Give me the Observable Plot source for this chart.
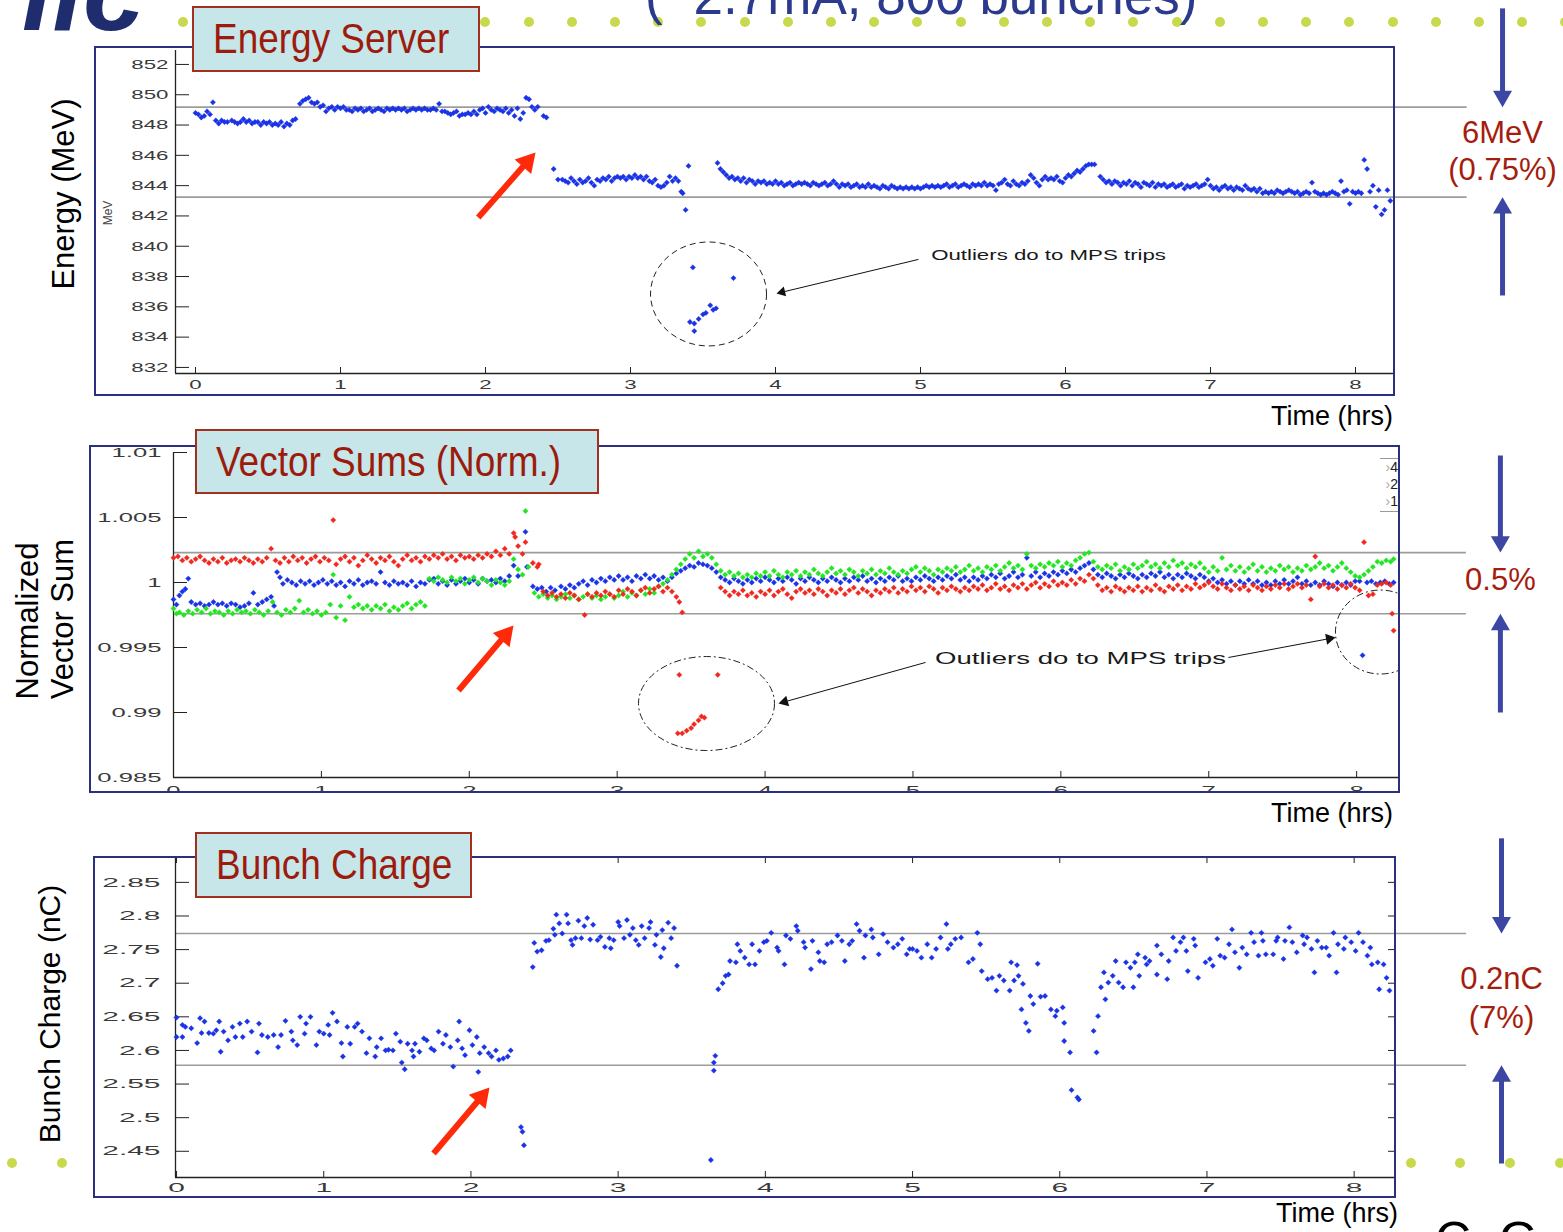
<!DOCTYPE html>
<html><head><meta charset="utf-8">
<script src="https://cdn.jsdelivr.net/npm/d3@7"></script>
<script src="https://cdn.jsdelivr.net/npm/@observablehq/plot@0.6"></script>
<style>
body{margin:0;background:#fff;}
#page{position:relative;width:1563px;height:1232px;overflow:hidden;background:#fff;font-family:"Liberation Sans",Arial,sans-serif;}
.frame{position:absolute;border:2px solid #2b2f80;box-sizing:border-box;z-index:3;pointer-events:none;}
.tbox{position:absolute;background:#c6e6ea;border:2px solid #a3301f;box-sizing:border-box;z-index:6;overflow:hidden;}
.tbox span{position:absolute;left:19px;top:50%;transform-origin:left center;transform:translateY(-50%) scaleX(0.88);font-size:42px;color:#9c1b0c;white-space:nowrap;line-height:1;}
.vlab{position:absolute;transform:translate(-50%,-50%) rotate(-90deg);font-size:31px;color:#000;white-space:nowrap;z-index:4;line-height:1;}
.time{position:absolute;font-size:27px;color:#000;z-index:4;line-height:1;transform:translateY(-50%);}
.ddot{position:absolute;width:10px;height:10px;border-radius:50%;background:#c8d94c;transform:translate(-50%,-50%);z-index:0;}
</style></head>
<body><div id="page"></div>
<script>
// ---------------- DATA ----------------
const timeTicks = [0,1,2,3,4,5,6,7,8];
const energyTicks = [832,834,836,838,840,842,844,846,848,850,852];
const vsTicks = [0.985,0.99,0.995,1,1.005,1.01];
const bunchTicks = [2.45,2.5,2.55,2.6,2.65,2.7,2.75,2.8,2.85];

const energyLevels = [849.18, 843.24];
const vsLevels = [1.0023, 0.9976];
const bunchLevels = [2.774, 2.578];

const energyNote = ["6MeV","(0.75%)"];
const vsNote = ["0.5%"];
const bunchNote = ["0.2nC","(7%)"];
const outlierNote = "Outliers do to MPS trips";

const energyPts = [[0.00,848.8],[0.02,848.7],[0.04,848.5],[0.06,848.6],[0.08,848.9],[0.10,848.7],[0.12,849.5],[0.14,848.3],[0.16,848.1],[0.18,848.3],[0.20,848.2],[0.22,848.2],[0.25,848.3],[0.27,848.2],[0.29,848.1],[0.31,848.2],[0.33,848.4],[0.35,848.2],[0.37,848.3],[0.39,848.1],[0.41,848.2],[0.43,848.2],[0.45,848.0],[0.47,848.2],[0.49,848.1],[0.51,848.2],[0.53,848.0],[0.55,848.1],[0.57,848.0],[0.59,848.2],[0.61,847.9],[0.63,848.1],[0.65,848.0],[0.67,848.3],[0.69,848.4],[0.72,849.4],[0.74,849.6],[0.76,849.7],[0.78,849.8],[0.80,849.5],[0.82,849.4],[0.84,849.5],[0.86,849.2],[0.88,849.3],[0.90,848.9],[0.92,849.1],[0.94,849.2],[0.96,849.0],[0.98,849.2],[1.00,849.1],[1.02,849.2],[1.04,849.0],[1.06,849.0],[1.08,848.9],[1.10,849.1],[1.12,849.0],[1.14,849.1],[1.16,848.9],[1.18,849.0],[1.20,849.1],[1.22,848.9],[1.24,849.0],[1.26,849.1],[1.28,849.0],[1.30,848.9],[1.32,849.1],[1.34,849.0],[1.36,849.1],[1.38,849.0],[1.40,849.1],[1.42,849.0],[1.44,849.1],[1.46,848.9],[1.48,849.0],[1.50,849.1],[1.52,849.0],[1.54,849.1],[1.56,849.0],[1.58,849.1],[1.60,849.0],[1.62,849.0],[1.64,849.1],[1.66,849.0],[1.68,849.4],[1.70,848.9],[1.72,848.9],[1.74,848.8],[1.76,848.7],[1.78,848.8],[1.80,848.9],[1.82,848.6],[1.84,848.7],[1.86,848.7],[1.88,848.8],[1.90,848.7],[1.92,848.9],[1.94,848.7],[1.96,849.0],[1.98,849.1],[2.00,848.8],[2.02,849.2],[2.04,849.0],[2.06,848.9],[2.08,849.1],[2.10,849.0],[2.12,848.9],[2.14,849.1],[2.16,848.8],[2.18,849.0],[2.20,848.6],[2.22,849.1],[2.24,848.4],[2.26,848.8],[2.28,849.8],[2.30,849.7],[2.32,849.2],[2.34,849.0],[2.36,849.2],[2.40,848.6],[2.42,848.5],
[2.47,845.1],[2.50,844.4],[2.53,844.4],[2.55,844.3],[2.57,844.2],[2.59,844.5],[2.61,844.3],[2.63,844.1],[2.65,844.4],[2.67,844.2],[2.69,844.3],[2.71,844.5],[2.73,844.2],[2.75,844.0],[2.77,844.4],[2.79,844.3],[2.81,844.5],[2.83,844.4],[2.85,844.6],[2.87,844.3],[2.89,844.5],[2.91,844.6],[2.93,844.5],[2.95,844.6],[2.97,844.4],[2.99,844.6],[3.01,844.5],[3.03,844.7],[3.05,844.5],[3.07,844.6],[3.09,844.4],[3.11,844.6],[3.13,844.3],[3.15,844.2],[3.17,844.4],[3.19,844.0],[3.21,843.9],[3.23,844.0],[3.25,844.2],[3.27,844.6],[3.29,844.3],[3.31,844.5],[3.33,844.3],[3.35,843.6],[3.36,843.5],[3.38,842.4],[3.40,845.3],
[3.43,838.6],[3.41,835.0],[3.44,834.9],[3.44,834.4],[3.47,835.2],[3.50,835.5],[3.52,835.6],[3.55,836.1],[3.57,835.8],[3.59,835.9],[3.71,837.9],
[3.60,845.5],[3.62,845.1],[3.64,844.9],[3.66,844.7],[3.68,844.5],[3.70,844.6],[3.72,844.4],[3.74,844.5],[3.76,844.3],[3.78,844.5],[3.80,844.2],[3.82,844.4],[3.84,844.3],[3.86,844.1],[3.88,844.3],[3.90,844.2],[3.92,844.3],[3.94,844.1],[3.96,844.2],[3.98,844.1],[4.00,844.3],[4.02,844.1],[4.04,844.2],[4.06,844.0],[4.08,844.1],[4.10,844.2],[4.12,844.0],[4.14,844.1],[4.16,844.2],[4.18,844.1],[4.20,844.2],[4.22,844.1],[4.24,844.0],[4.26,844.2],[4.28,844.1],[4.30,844.0],[4.32,844.1],[4.34,844.2],[4.36,844.0],[4.38,844.1],[4.40,844.3],[4.42,844.1],[4.44,843.9],[4.46,844.1],[4.48,844.0],[4.50,844.1],[4.52,843.9],[4.54,844.0],[4.56,844.1],[4.58,843.9],[4.60,844.0],[4.62,843.9],[4.64,844.1],[4.66,843.9],[4.68,844.0],[4.70,843.9],[4.72,843.8],[4.74,844.0],[4.76,843.9],[4.78,843.8],[4.80,844.0],[4.82,843.9],[4.84,843.8],[4.86,843.9],[4.88,843.8],[4.90,843.9],[4.92,843.8],[4.94,843.9],[4.96,843.8],[4.98,843.9],[5.00,843.8],[5.02,843.9],[5.04,844.0],[5.06,843.9],[5.08,844.0],[5.10,843.9],[5.12,844.0],[5.14,843.9],[5.16,844.0],[5.18,844.1],[5.20,843.9],[5.22,844.0],[5.24,844.1],[5.26,843.9],[5.28,844.0],[5.30,844.1],[5.32,844.0],[5.34,843.9],[5.36,844.1],[5.38,844.0],[5.40,844.1],[5.42,844.0],[5.44,844.2],[5.46,844.0],[5.48,844.1],[5.50,844.0],[5.52,843.7],[5.54,844.1],[5.56,844.2],[5.58,844.4],[5.60,844.1],[5.62,844.0],[5.64,844.3],[5.66,844.1],[5.68,844.0],[5.70,844.2],[5.72,844.1],[5.74,844.3],[5.76,844.7],[5.78,844.5],[5.80,844.2],[5.82,844.0],[5.84,844.4],[5.86,844.6],[5.88,844.4],[5.90,844.5],[5.92,844.4],[5.94,844.6],[5.96,844.3],[5.98,844.2],[6.00,844.5],[6.02,844.7],[6.04,844.6],[6.06,844.8],[6.08,845.0],[6.10,844.9],[6.12,845.1],[6.14,845.3],[6.16,845.4],[6.18,845.4],[6.20,845.4],[6.24,844.6],[6.26,844.4],[6.28,844.2],[6.30,844.3],[6.32,844.1],[6.34,844.3],[6.36,844.2],[6.38,844.0],[6.40,844.2],[6.42,844.1],[6.44,844.3],[6.46,844.0],[6.48,844.2],[6.50,844.1],[6.52,843.9],[6.54,844.2],[6.56,844.1],[6.58,844.0],[6.60,844.2],[6.62,843.9],[6.64,844.1],[6.66,844.0],[6.68,844.1],[6.70,843.9],[6.72,844.0],[6.74,844.1],[6.76,843.9],[6.78,844.0],[6.80,844.1],[6.82,843.8],[6.84,844.0],[6.86,843.9],[6.88,844.0],[6.90,844.1],[6.92,843.9],[6.94,844.0],[6.96,844.1],[6.98,844.4],[7.00,844.0],[7.02,843.8],[7.04,843.9],[7.06,843.7],[7.08,843.9],[7.10,844.0],[7.12,843.8],[7.14,843.9],[7.16,843.7],[7.18,843.9],[7.20,843.8],[7.22,843.7],[7.24,844.0],[7.26,843.8],[7.28,843.7],[7.30,843.8],[7.32,843.6],[7.34,843.8],[7.36,843.5],[7.38,843.6],[7.40,843.5],[7.42,843.6],[7.44,843.5],[7.46,843.7],[7.48,843.6],[7.50,843.5],[7.52,843.6],[7.54,843.7],[7.56,843.6],[7.58,843.5],[7.60,843.6],[7.62,843.4],[7.64,843.5],[7.66,843.6],[7.68,843.5],[7.70,844.2],[7.72,843.6],[7.74,843.5],[7.76,843.4],[7.78,843.5],[7.80,843.4],[7.82,843.5],[7.84,843.6],[7.86,843.5],[7.88,843.4],[7.90,844.3],[7.92,843.6],[7.94,843.7],[7.96,842.8],[7.98,843.6],[8.00,843.5],[8.02,843.6],[8.04,843.5],[8.06,845.7],[8.08,845.1],[8.10,843.6],[8.12,844.0],[8.14,842.6],[8.16,843.7],[8.18,842.1],[8.20,842.4],[8.22,843.7],[8.24,843.0]];

const vsRed = [[0.00,1.0019],[0.03,1.0020],[0.06,1.0017],[0.09,1.0019],[0.12,1.0016],[0.15,1.0018],[0.18,1.0020],[0.21,1.0017],[0.24,1.0015],[0.27,1.0018],[0.30,1.0016],[0.33,1.0019],[0.36,1.0015],[0.39,1.0017],[0.42,1.0018],[0.45,1.0016],[0.48,1.0019],[0.51,1.0017],[0.54,1.0015],[0.57,1.0018],[0.60,1.0016],[0.63,1.0019],[0.66,1.0026],[0.69,1.0017],[0.72,1.0015],[0.75,1.0019],[0.78,1.0016],[0.81,1.0020],[0.84,1.0017],[0.87,1.0019],[0.90,1.0015],[0.93,1.0018],[0.96,1.0020],[0.99,1.0016],[1.02,1.0019],[1.05,1.0017],[1.08,1.0048],[1.10,1.0014],[1.13,1.0018],[1.16,1.0020],[1.19,1.0016],[1.22,1.0019],[1.25,1.0013],[1.28,1.0017],[1.31,1.0021],[1.34,1.0018],[1.37,1.0015],[1.40,1.0019],[1.43,1.0017],[1.46,1.0020],[1.49,1.0016],[1.52,1.0013],[1.55,1.0018],[1.58,1.0021],[1.61,1.0017],[1.64,1.0019],[1.67,1.0016],[1.70,1.0020],[1.73,1.0018],[1.76,1.0021],[1.79,1.0019],[1.82,1.0022],[1.85,1.0018],[1.88,1.0020],[1.91,1.0017],[1.94,1.0021],[1.97,1.0019],[2.00,1.0020],[2.03,1.0018],[2.06,1.0021],[2.09,1.0019],[2.12,1.0022],[2.15,1.0020],[2.18,1.0024],[2.21,1.0021],[2.24,1.0026],[2.27,1.0022],[2.30,1.0038],[2.31,1.0035],[2.33,1.0028],[2.36,1.0022],[2.38,1.0031],[2.43,1.0015],[2.46,1.0012],[2.47,1.0014],
[2.50,0.9993],[2.53,0.9990],[2.56,0.9992],[2.59,0.9989],[2.62,0.9991],[2.65,0.9988],[2.68,0.9992],[2.71,0.9990],[2.74,0.9987],[2.78,0.9975],[2.80,0.9991],[2.83,0.9989],[2.86,0.9992],[2.89,0.9990],[2.92,0.9993],[2.95,0.9991],[2.98,0.9989],[3.01,0.9994],[3.04,0.9991],[3.07,0.9995],[3.10,0.9993],[3.13,0.9990],[3.16,0.9994],[3.19,0.9996],[3.22,0.9992],[3.25,0.9995],[3.28,0.9997],[3.31,0.9993],[3.34,0.9996],[3.37,0.9993],[3.40,0.9989],[3.42,0.9985],[3.44,0.9977],
[3.42,0.9929],[3.68,0.9929],[3.41,0.9884],[3.44,0.9884],[3.47,0.9886],[3.50,0.9888],[3.52,0.9891],[3.55,0.9894],[3.57,0.9897],[3.59,0.9896],
[3.70,0.9996],[3.73,0.9993],[3.76,0.9990],[3.79,0.9993],[3.82,0.9991],[3.85,0.9994],[3.88,0.9990],[3.91,0.9992],[3.94,0.9989],[3.97,0.9993],[4.00,0.9991],[4.03,0.9994],[4.06,0.9990],[4.09,0.9993],[4.12,0.9995],[4.15,0.9991],[4.18,0.9988],[4.21,0.9993],[4.24,0.9995],[4.27,0.9992],[4.30,0.9994],[4.33,0.9991],[4.36,0.9995],[4.39,0.9993],[4.42,0.9990],[4.45,0.9994],[4.48,0.9992],[4.51,0.9995],[4.54,0.9991],[4.57,0.9994],[4.60,0.9996],[4.63,0.9992],[4.66,0.9995],[4.69,0.9993],[4.72,0.9990],[4.75,0.9994],[4.78,0.9992],[4.81,0.9995],[4.84,0.9993],[4.87,0.9996],[4.90,0.9992],[4.93,0.9995],[4.96,0.9993],[4.99,0.9997],[5.02,0.9994],[5.05,0.9996],[5.08,0.9993],[5.11,0.9997],[5.14,0.9995],[5.17,0.9992],[5.20,0.9996],[5.23,0.9994],[5.26,0.9997],[5.29,0.9995],[5.32,0.9993],[5.35,0.9996],[5.38,0.9994],[5.41,0.9997],[5.44,0.9995],[5.47,0.9998],[5.50,0.9994],[5.53,0.9996],[5.56,0.9999],[5.59,0.9995],[5.62,0.9997],[5.65,0.9994],[5.68,0.9998],[5.71,0.9996],[5.74,0.9999],[5.77,0.9995],[5.80,0.9998],[5.83,1.0000],[5.86,0.9996],[5.89,0.9999],[5.92,0.9997],[5.95,1.0001],[5.98,0.9998],[6.01,1.0000],[6.04,0.9998],[6.07,1.0002],[6.10,0.9999],[6.13,1.0003],[6.16,1.0001],[6.19,1.0006],[6.22,1.0003],[6.25,0.9998],[6.28,0.9994],[6.31,0.9996],[6.34,0.9993],[6.37,0.9997],[6.40,0.9995],[6.43,0.9993],[6.46,0.9996],[6.49,0.9994],[6.52,0.9997],[6.55,0.9993],[6.58,0.9996],[6.61,0.9994],[6.64,0.9998],[6.67,0.9995],[6.70,0.9993],[6.73,0.9997],[6.76,0.9995],[6.79,0.9998],[6.82,0.9994],[6.85,0.9997],[6.88,0.9995],[6.91,0.9999],[6.94,0.9996],[6.97,0.9998],[7.00,1.0000],[7.03,0.9997],[7.06,0.9995],[7.09,0.9999],[7.12,0.9996],[7.15,0.9994],[7.18,0.9998],[7.21,0.9995],[7.24,0.9997],[7.27,0.9994],[7.30,0.9998],[7.33,0.9996],[7.36,0.9994],[7.39,0.9997],[7.42,0.9995],[7.45,0.9998],[7.48,0.9996],[7.51,0.9999],[7.54,0.9995],[7.57,0.9997],[7.60,0.9999],[7.63,0.9996],[7.66,0.9998],[7.69,0.9987],[7.72,1.0020],[7.75,0.9997],[7.78,0.9999],[7.81,0.9996],[7.84,0.9998],[7.87,0.9995],[7.90,0.9998],[7.93,0.9996],[7.96,0.9999],[7.99,0.9996],[8.02,0.9994],[8.05,1.0031],[8.08,0.9990],[8.11,0.9991],[8.14,0.9998],[8.17,0.9999],[8.20,1.0000],[8.23,0.9998],[8.24,0.9976],[8.25,0.9963]];

const vsBlue = [[0.00,0.9987],[0.02,0.9983],[0.04,0.9990],[0.06,0.9993],[0.08,0.9995],[0.10,1.0003],[0.12,0.9985],[0.15,0.9983],[0.18,0.9984],[0.21,0.9982],[0.24,0.9983],[0.27,0.9985],[0.30,0.9983],[0.33,0.9984],[0.36,0.9982],[0.39,0.9984],[0.42,0.9983],[0.45,0.9981],[0.48,0.9982],[0.51,0.9984],[0.54,0.9992],[0.57,0.9983],[0.60,0.9985],[0.63,0.9987],[0.66,0.9989],[0.68,0.9982],[0.70,1.0008],[0.72,1.0004],[0.74,0.9999],[0.77,1.0002],[0.80,1.0000],[0.83,0.9998],[0.86,1.0001],[0.89,0.9999],[0.92,1.0001],[0.95,0.9998],[0.98,1.0000],[1.01,1.0002],[1.04,0.9999],[1.07,1.0001],[1.10,0.9998],[1.13,1.0000],[1.16,0.9997],[1.19,1.0001],[1.22,0.9999],[1.25,1.0002],[1.28,0.9998],[1.31,1.0000],[1.34,1.0001],[1.37,0.9999],[1.40,1.0008],[1.43,1.0000],[1.46,0.9998],[1.49,1.0001],[1.52,0.9999],[1.55,1.0000],[1.58,0.9998],[1.61,1.0001],[1.64,0.9997],[1.67,1.0000],[1.70,0.9999],[1.73,1.0002],[1.76,1.0003],[1.79,0.9999],[1.82,1.0001],[1.85,0.9998],[1.88,1.0002],[1.91,0.9999],[1.94,1.0001],[1.97,1.0003],[2.00,1.0000],[2.03,1.0002],[2.06,0.9999],[2.09,1.0003],[2.12,1.0001],[2.15,1.0002],[2.18,1.0000],[2.21,1.0003],[2.24,1.0001],[2.27,1.0005],[2.30,1.0013],[2.33,1.0005],[2.38,1.0039],[2.39,1.0012],
[2.43,0.9997],[2.46,0.9995],[2.49,0.9996],[2.52,0.9993],[2.55,0.9996],[2.58,0.9994],[2.62,0.9997],[2.65,0.9995],[2.68,0.9998],[2.71,0.9996],[2.74,0.9999],[2.77,1.0001],[2.80,0.9998],[2.83,1.0002],[2.86,1.0000],[2.89,1.0003],[2.92,1.0001],[2.95,1.0004],[2.98,1.0002],[3.01,1.0005],[3.04,1.0002],[3.07,1.0004],[3.10,1.0001],[3.13,1.0005],[3.16,1.0003],[3.19,1.0006],[3.22,1.0003],[3.25,1.0005],[3.28,1.0002],[3.31,1.0004],[3.34,1.0001],[3.37,1.0004],[3.40,1.0007],[3.43,1.0009],[3.46,1.0011],[3.49,1.0013],[3.52,1.0012],[3.55,1.0015],[3.58,1.0014],[3.61,1.0013],[3.64,1.0011],[3.67,1.0008],[3.70,1.0004],[3.73,1.0002],[3.76,1.0000],[3.79,1.0003],[3.82,1.0001],[3.85,0.9999],[3.88,1.0002],[3.91,1.0000],[3.94,1.0003],[3.97,1.0001],[4.00,1.0004],[4.03,1.0002],[4.06,1.0000],[4.09,1.0003],[4.12,1.0001],[4.15,1.0004],[4.18,1.0002],[4.21,0.9999],[4.24,1.0003],[4.27,1.0001],[4.30,1.0004],[4.33,1.0002],[4.36,1.0000],[4.39,1.0003],[4.42,1.0001],[4.45,1.0004],[4.48,1.0002],[4.51,1.0000],[4.54,1.0003],[4.57,1.0001],[4.60,1.0004],[4.63,1.0002],[4.66,1.0005],[4.69,1.0001],[4.72,1.0003],[4.75,1.0000],[4.78,1.0003],[4.81,1.0001],[4.84,1.0004],[4.87,1.0002],[4.90,1.0005],[4.93,1.0001],[4.96,1.0003],[4.99,1.0001],[5.02,1.0004],[5.05,1.0002],[5.08,1.0005],[5.11,1.0003],[5.14,1.0001],[5.17,1.0004],[5.20,1.0002],[5.23,1.0005],[5.26,1.0003],[5.29,1.0006],[5.32,1.0002],[5.35,1.0004],[5.38,1.0001],[5.41,1.0004],[5.44,1.0002],[5.47,1.0005],[5.50,1.0003],[5.53,1.0006],[5.56,1.0004],[5.59,1.0007],[5.62,1.0003],[5.65,1.0005],[5.68,1.0008],[5.71,1.0004],[5.74,1.0006],[5.77,1.0019],[5.80,1.0005],[5.83,1.0008],[5.86,1.0004],[5.89,1.0007],[5.92,1.0005],[5.95,1.0008],[5.98,1.0006],[6.01,1.0009],[6.04,1.0007],[6.07,1.0010],[6.10,1.0008],[6.13,1.0011],[6.16,1.0013],[6.19,1.0015],[6.22,1.0010],[6.25,1.0006],[6.28,1.0004],[6.31,1.0007],[6.34,1.0005],[6.37,1.0003],[6.40,1.0006],[6.43,1.0004],[6.46,1.0007],[6.49,1.0005],[6.52,1.0003],[6.55,1.0006],[6.58,1.0004],[6.61,1.0007],[6.64,1.0005],[6.67,1.0008],[6.70,1.0004],[6.73,1.0006],[6.76,1.0003],[6.79,1.0006],[6.82,1.0004],[6.85,1.0007],[6.88,1.0005],[6.91,1.0003],[6.94,1.0006],[6.97,1.0004],[7.00,1.0001],[7.03,1.0003],[7.06,1.0000],[7.09,1.0002],[7.12,0.9999],[7.15,1.0001],[7.18,0.9998],[7.21,1.0001],[7.24,0.9999],[7.27,1.0002],[7.30,0.9999],[7.33,1.0001],[7.36,0.9998],[7.39,1.0000],[7.42,0.9998],[7.45,1.0001],[7.48,0.9999],[7.51,1.0002],[7.54,0.9999],[7.57,1.0001],[7.60,1.0004],[7.63,0.9999],[7.66,1.0001],[7.69,0.9998],[7.72,1.0000],[7.75,0.9998],[7.78,1.0001],[7.81,0.9999],[7.84,0.9997],[7.87,1.0000],[7.90,0.9998],[7.93,1.0000],[7.96,0.9998],[7.99,1.0001],[8.02,1.0001],[8.04,0.9944],[8.07,1.0000],[8.10,1.0001],[8.13,0.9999],[8.16,1.0000],[8.19,1.0001],[8.22,0.9999],[8.25,1.0000]];

const vsGreen = [[0.00,0.9980],[0.02,0.9976],[0.04,0.9977],[0.07,0.9975],[0.10,0.9978],[0.13,0.9976],[0.16,0.9979],[0.19,0.9977],[0.22,0.9980],[0.25,0.9976],[0.28,0.9978],[0.31,0.9977],[0.34,0.9975],[0.37,0.9978],[0.40,0.9976],[0.43,0.9979],[0.46,0.9977],[0.49,0.9978],[0.52,0.9976],[0.55,0.9979],[0.58,0.9977],[0.61,0.9975],[0.64,0.9978],[0.67,0.9985],[0.70,0.9977],[0.73,0.9975],[0.76,0.9979],[0.79,0.9977],[0.82,0.9980],[0.85,0.9986],[0.88,0.9977],[0.91,0.9979],[0.94,0.9976],[0.97,0.9978],[1.00,0.9975],[1.03,0.9977],[1.06,0.9983],[1.08,1.0006],[1.10,0.9973],[1.13,0.9982],[1.16,0.9971],[1.19,0.9989],[1.22,0.9981],[1.25,0.9983],[1.28,0.9980],[1.31,0.9982],[1.34,0.9979],[1.37,0.9982],[1.40,0.9980],[1.43,0.9983],[1.46,0.9978],[1.49,0.9981],[1.52,0.9979],[1.55,0.9982],[1.58,0.9984],[1.61,0.9980],[1.64,0.9983],[1.67,0.9985],[1.70,0.9982],[1.73,1.0003],[1.76,1.0001],[1.79,1.0004],[1.82,1.0002],[1.85,1.0000],[1.88,1.0004],[1.91,1.0001],[1.94,1.0003],[1.97,0.9999],[2.00,1.0002],[2.03,1.0004],[2.06,1.0000],[2.09,1.0003],[2.12,1.0001],[2.15,0.9998],[2.18,1.0002],[2.21,1.0000],[2.24,0.9998],[2.27,1.0001],[2.30,1.0018],[2.33,1.0010],[2.36,1.0006],[2.38,1.0055],[2.40,1.0012],
[2.44,0.9992],[2.47,0.9989],[2.50,0.9991],[2.53,0.9988],[2.56,0.9990],[2.59,0.9987],[2.62,0.9989],[2.65,0.9991],[2.68,0.9988],[2.71,0.9990],[2.74,0.9987],[2.77,0.9989],[2.80,0.9991],[2.83,0.9988],[2.86,0.9990],[2.89,0.9987],[2.92,0.9989],[2.95,0.9991],[2.98,0.9988],[3.01,0.9990],[3.04,0.9993],[3.07,0.9989],[3.10,0.9992],[3.13,0.9990],[3.16,0.9994],[3.19,0.9991],[3.22,0.9995],[3.25,0.9992],[3.28,0.9997],[3.31,0.9999],[3.34,1.0002],[3.37,1.0006],[3.40,1.0010],[3.43,1.0014],[3.46,1.0018],[3.49,1.0022],[3.52,1.0019],[3.55,1.0024],[3.58,1.0020],[3.61,1.0022],[3.64,1.0019],[3.67,1.0014],[3.70,1.0009],[3.73,1.0006],[3.76,1.0008],[3.79,1.0005],[3.82,1.0007],[3.85,1.0004],[3.88,1.0006],[3.91,1.0004],[3.94,1.0007],[3.97,1.0005],[4.00,1.0008],[4.03,1.0005],[4.06,1.0009],[4.09,1.0006],[4.12,1.0004],[4.15,1.0008],[4.18,1.0006],[4.21,1.0009],[4.24,1.0005],[4.27,1.0008],[4.30,1.0006],[4.33,1.0010],[4.36,1.0007],[4.39,1.0005],[4.42,1.0008],[4.45,1.0011],[4.48,1.0007],[4.51,1.0009],[4.54,1.0006],[4.57,1.0010],[4.60,1.0008],[4.63,1.0005],[4.66,1.0009],[4.69,1.0007],[4.72,1.0010],[4.75,1.0006],[4.78,1.0009],[4.81,1.0007],[4.84,1.0011],[4.87,1.0008],[4.90,1.0006],[4.93,1.0009],[4.96,1.0007],[4.99,1.0010],[5.02,1.0012],[5.05,1.0008],[5.08,1.0011],[5.11,1.0009],[5.14,1.0006],[5.17,1.0010],[5.20,1.0008],[5.23,1.0011],[5.26,1.0009],[5.29,1.0012],[5.32,1.0008],[5.35,1.0010],[5.38,1.0013],[5.41,1.0009],[5.44,1.0011],[5.47,1.0008],[5.50,1.0012],[5.53,1.0010],[5.56,1.0013],[5.59,1.0009],[5.62,1.0012],[5.65,1.0015],[5.68,1.0011],[5.71,1.0013],[5.74,1.0010],[5.77,1.0022],[5.80,1.0013],[5.83,1.0011],[5.86,1.0014],[5.89,1.0012],[5.92,1.0015],[5.95,1.0013],[5.98,1.0016],[6.01,1.0012],[6.04,1.0015],[6.07,1.0013],[6.10,1.0017],[6.13,1.0019],[6.16,1.0022],[6.19,1.0023],[6.22,1.0016],[6.25,1.0012],[6.28,1.0010],[6.31,1.0013],[6.34,1.0011],[6.37,1.0014],[6.40,1.0009],[6.43,1.0012],[6.46,1.0010],[6.49,1.0014],[6.52,1.0011],[6.55,1.0013],[6.58,1.0016],[6.61,1.0012],[6.64,1.0014],[6.67,1.0011],[6.70,1.0015],[6.73,1.0012],[6.76,1.0017],[6.79,1.0013],[6.82,1.0015],[6.85,1.0011],[6.88,1.0014],[6.91,1.0012],[6.94,1.0015],[6.97,1.0011],[7.00,1.0008],[7.03,1.0012],[7.06,1.0009],[7.09,1.0019],[7.12,1.0010],[7.15,1.0013],[7.18,1.0009],[7.21,1.0012],[7.24,1.0008],[7.27,1.0011],[7.30,1.0014],[7.33,1.0009],[7.36,1.0012],[7.39,1.0008],[7.42,1.0011],[7.45,1.0009],[7.48,1.0013],[7.51,1.0010],[7.54,1.0012],[7.57,1.0008],[7.60,1.0011],[7.63,1.0009],[7.66,1.0013],[7.69,1.0010],[7.72,1.0012],[7.75,1.0015],[7.78,1.0011],[7.81,1.0013],[7.84,1.0009],[7.87,1.0012],[7.90,1.0015],[7.93,1.0011],[7.96,1.0008],[7.99,1.0005],[8.02,1.0004],[8.05,1.0006],[8.08,1.0009],[8.11,1.0012],[8.14,1.0016],[8.17,1.0015],[8.20,1.0017],[8.23,1.0016],[8.25,1.0018]];

const bunchPts = [[0.00,2.649],[0.00,2.620],[0.04,2.638],[0.04,2.620],[0.06,2.635],[0.10,2.633],[0.14,2.611],[0.16,2.648],[0.17,2.626],[0.19,2.643],[0.22,2.626],[0.25,2.625],[0.27,2.630],[0.29,2.643],[0.30,2.598],[0.32,2.628],[0.35,2.615],[0.38,2.635],[0.40,2.620],[0.43,2.640],[0.45,2.620],[0.48,2.643],[0.51,2.628],[0.55,2.597],[0.56,2.640],[0.58,2.623],[0.62,2.620],[0.66,2.623],[0.69,2.605],[0.71,2.623],[0.74,2.644],[0.78,2.628],[0.79,2.615],[0.82,2.608],[0.84,2.650],[0.87,2.625],[0.88,2.640],[0.91,2.650],[0.95,2.608],[0.97,2.628],[1.00,2.625],[1.03,2.638],[1.04,2.623],[1.06,2.656],[1.09,2.643],[1.12,2.611],[1.13,2.591],[1.16,2.635],[1.18,2.610],[1.21,2.635],[1.23,2.640],[1.26,2.628],[1.29,2.596],[1.31,2.618],[1.35,2.591],[1.36,2.605],[1.39,2.618],[1.42,2.600],[1.44,2.601],[1.47,2.600],[1.49,2.625],[1.52,2.613],[1.53,2.582],[1.55,2.572],[1.57,2.610],[1.60,2.600],[1.61,2.591],[1.62,2.610],[1.65,2.598],[1.68,2.618],[1.70,2.615],[1.73,2.603],[1.75,2.600],[1.78,2.628],[1.81,2.610],[1.83,2.623],[1.86,2.605],[1.88,2.576],[1.91,2.615],[1.92,2.643],[1.94,2.603],[1.96,2.593],[1.99,2.630],[2.01,2.608],[2.04,2.620],[2.05,2.568],[2.06,2.596],[2.09,2.605],[2.12,2.596],[2.14,2.591],[2.17,2.600],[2.19,2.586],[2.22,2.588],[2.25,2.591],[2.27,2.600],
[2.34,2.486],[2.35,2.479],[2.36,2.459],
[2.42,2.724],[2.43,2.760],[2.45,2.747],[2.48,2.749],[2.51,2.763],[2.53,2.764],[2.56,2.781],[2.57,2.772],[2.58,2.802],[2.60,2.789],[2.62,2.774],[2.65,2.802],[2.66,2.789],[2.68,2.764],[2.69,2.757],[2.71,2.767],[2.73,2.793],[2.75,2.767],[2.77,2.785],[2.79,2.797],[2.81,2.765],[2.83,2.787],[2.86,2.764],[2.88,2.769],[2.91,2.754],[2.94,2.767],[2.95,2.752],[2.97,2.764],[3.00,2.791],[3.01,2.785],[3.04,2.767],[3.06,2.794],[3.08,2.772],[3.10,2.782],[3.12,2.764],[3.14,2.757],[3.16,2.785],[3.18,2.767],[3.21,2.782],[3.22,2.791],[3.25,2.757],[3.26,2.772],[3.29,2.739],[3.30,2.779],[3.31,2.752],[3.34,2.790],[3.36,2.767],[3.38,2.782],[3.40,2.726],
[3.63,2.437],[3.65,2.582],[3.65,2.570],[3.66,2.592],
[3.68,2.691],[3.71,2.700],[3.73,2.711],[3.75,2.713],[3.76,2.733],[3.80,2.731],[3.81,2.758],[3.83,2.748],[3.86,2.738],[3.89,2.728],[3.91,2.758],[3.93,2.728],[3.96,2.748],[3.99,2.761],[4.01,2.763],[4.04,2.775],[4.08,2.753],[4.09,2.748],[4.13,2.728],[4.14,2.771],[4.17,2.766],[4.21,2.785],[4.22,2.778],[4.26,2.761],[4.27,2.753],[4.31,2.721],[4.32,2.763],[4.36,2.746],[4.37,2.733],[4.40,2.731],[4.42,2.758],[4.45,2.761],[4.49,2.771],[4.52,2.763],[4.54,2.733],[4.57,2.758],[4.59,2.763],[4.62,2.788],[4.64,2.778],[4.67,2.738],[4.68,2.771],[4.72,2.780],[4.73,2.768],[4.77,2.743],[4.80,2.773],[4.83,2.761],[4.87,2.753],[4.90,2.758],[4.93,2.766],[4.96,2.743],[4.98,2.751],[5.00,2.751],[5.03,2.748],[5.06,2.738],[5.10,2.758],[5.13,2.738],[5.16,2.751],[5.19,2.768],[5.23,2.788],[5.24,2.751],[5.26,2.758],[5.29,2.766],[5.33,2.768],[5.38,2.731],[5.41,2.736],[5.44,2.775],[5.46,2.758],[5.47,2.718],[5.51,2.706],[5.54,2.708],[5.57,2.689],[5.59,2.711],[5.62,2.704],[5.66,2.689],[5.67,2.731],[5.69,2.704],[5.71,2.727],[5.72,2.711],[5.74,2.661],[5.75,2.699],[5.77,2.641],[5.79,2.629],[5.80,2.681],[5.82,2.669],[5.85,2.729],[5.87,2.680],[5.90,2.681],[5.94,2.661],[5.97,2.651],[5.98,2.659],[6.02,2.664],[6.03,2.641],[6.03,2.614],[6.07,2.597],[6.08,2.541],[6.12,2.530],[6.13,2.527],
[6.23,2.629],[6.25,2.597],[6.26,2.651],[6.28,2.694],[6.30,2.716],[6.31,2.676],[6.33,2.701],[6.36,2.711],[6.38,2.733],[6.40,2.701],[6.43,2.694],[6.45,2.731],[6.48,2.723],[6.50,2.694],[6.51,2.731],[6.53,2.743],[6.54,2.711],[6.58,2.738],[6.59,2.728],[6.61,2.733],[6.66,2.756],[6.66,2.713],[6.69,2.743],[6.73,2.706],[6.74,2.733],[6.77,2.768],[6.79,2.748],[6.82,2.761],[6.84,2.768],[6.86,2.748],[6.87,2.718],[6.91,2.766],[6.92,2.756],[6.94,2.708],[6.99,2.731],[7.02,2.736],[7.04,2.726],[7.07,2.766],[7.09,2.741],[7.12,2.738],[7.15,2.758],[7.17,2.780],[7.19,2.746],[7.22,2.723],[7.24,2.753],[7.27,2.743],[7.30,2.775],[7.32,2.761],[7.35,2.741],[7.37,2.775],[7.38,2.763],[7.40,2.743],[7.45,2.743],[7.47,2.763],[7.48,2.768],[7.52,2.736],[7.53,2.763],[7.56,2.783],[7.58,2.761],[7.61,2.746],[7.65,2.771],[7.66,2.758],[7.68,2.768],[7.71,2.751],[7.73,2.716],[7.75,2.763],[7.78,2.753],[7.81,2.753],[7.83,2.741],[7.86,2.775],[7.88,2.716],[7.89,2.758],[7.93,2.751],[7.94,2.768],[7.98,2.761],[8.01,2.748],[8.03,2.775],[8.06,2.761],[8.09,2.741],[8.11,2.753],[8.12,2.728],[8.16,2.731],[8.17,2.691],[8.20,2.728],[8.22,2.708],[8.24,2.689]];

// annotation anchors (data space)
const energyAnno = {lineEnd: 8.77, arrowX: 9.014, arrowTop: 855.7, arrowBottom: 836.75, noteY: [847.45, 845.0],
  redTail: [1.95, 841.9], redTip: [2.345, 846.19],
  ellipse: [3.538, 836.85], noteAt: [5.883, 839.39], blackTail: [4.986, 839.13], blackTip: [4.007, 836.88]};
const vsAnno = {lineEnd: 8.742, arrowX: 8.972, arrowTop: 1.00977, arrowBottom: 0.99, noteY: [1.00015],
  redTail: [1.927, 0.99169], redTip: [2.299, 0.99669],
  ellipseL: [3.604, 0.99069], ellipseR: [8.161, 0.99619], noteAt: [6.133, 0.99415],
  blackTailL: [5.085, 0.99385], blackTipL: [4.091, 0.99069], blackTailR: [7.133, 0.99423], blackTipR: [7.857, 0.99577]};
const bunchAnno = {lineEnd: 8.764, arrowX: 9.001, arrowTop: 2.9155, arrowBottom: 2.4318, noteY: [2.7056, 2.6476],
  redTail: [1.746, 2.4467], redTip: [2.126, 2.545]};

// ---------------- STYLE ----------------
const W = 1563, H = 1232;
const FONT = "Liberation Sans, Arial, sans-serif";
const BLUE = "#1a33e6", RED = "#f0281e", GREEN = "#22e622";
const GREY = "#9c9c9c", AXIS = "#222", TICK = "#3a3a3a", NOTE = "#1a1a1a";
const ARROWRED = "#ff2a0a", NAVY = "#3c46a3", DARKRED = "#a51d0e";

const page = document.getElementById("page");

function arrow(xs, ys, tail, tip, {stroke, width, head}) {
  const px1 = xs(tail[0]), py1 = ys(tail[1]), px2 = xs(tip[0]), py2 = ys(tip[1]);
  const L = Math.hypot(px2 - px1, py2 - py1), ux = (px2 - px1) / L, uy = (py2 - py1) / L;
  const A = Math.sqrt(3) / 4 * head * head, yy = Math.sqrt(A / (3 * Math.sqrt(3)));
  const c = [xs.invert(px2 - ux * 2 * yy), ys.invert(py2 - uy * 2 * yy)];
  const e = [xs.invert(px2 - ux * 2.6 * yy), ys.invert(py2 - uy * 2.6 * yy)];
  const rot = Math.atan2(ux, -uy) * 180 / Math.PI;
  return [
    Plot.link([{a: tail, b: e}], {x1: d => d.a[0], y1: d => d.a[1], x2: d => d.b[0], y2: d => d.b[1], stroke, strokeWidth: width}),
    Plot.dot([c], {x: d => d[0], y: d => d[1], symbol: "triangle", r: Math.sqrt(A / Math.PI), fill: stroke, stroke: "none", rotate: rot})
  ];
}
function ellipse(rx, ry) {
  const k = 0.5523;
  return {draw(c) {
    c.moveTo(rx, 0);
    c.bezierCurveTo(rx, ry * k, rx * k, ry, 0, ry);
    c.bezierCurveTo(-rx * k, ry, -rx, ry * k, -rx, 0);
    c.bezierCurveTo(-rx, -ry * k, -rx * k, -ry, 0, -ry);
    c.bezierCurveTo(rx * k, -ry, rx, -ry * k, rx, 0);
    c.closePath();
  }};
}
function stretch(svg, fill, sx) {
  svg.querySelectorAll(`g[fill="${fill}"] text`).forEach(t => {
    t.setAttribute("transform", (t.getAttribute("transform") || "") + ` scale(${sx},1)`);
  });
}
function axes(P, xs, ys, yTicks, o) {
  return [
    Plot.ruleX([P.xDom[0]], {y1: P.yDom[0], y2: P.yDom[1], stroke: AXIS, strokeWidth: 1.3}),
    Plot.ruleY([P.yDom[0]], {x1: P.xDom[0], x2: P.xDom[1], stroke: AXIS, strokeWidth: 1.3}),
    Plot.ruleY(yTicks, {x1: P.xDom[0], x2: xs.invert(xs(P.xDom[0]) + 14), stroke: AXIS, strokeWidth: 1}),
    Plot.ruleX(timeTicks, {y1: P.yDom[0], y2: ys.invert(ys(P.yDom[0]) - 6), stroke: AXIS, strokeWidth: 1}),
    Plot.text(yTicks, {x: P.xDom[0], y: d => d, text: d => `${d}`, textAnchor: "end", dx: o.dx, fontSize: o.fs, fill: TICK, fontFamily: FONT}),
    Plot.text(timeTicks, {x: d => d, y: P.yDom[0], text: d => `${d}`, lineAnchor: "top", dy: o.dy, fontSize: o.fs, fill: TICK, fontFamily: FONT})
  ];
}
function makePlot(P, marks) {
  const svg = Plot.plot({
    width: W, height: H,
    marginLeft: P.xRng[0], marginRight: W - P.xRng[1], marginTop: P.yRng[1], marginBottom: H - P.yRng[0],
    x: {domain: P.xDom, range: P.xRng, axis: null},
    y: {domain: P.yDom, range: P.yRng, axis: null},
    style: "position:absolute;left:0;top:0;background:transparent;overflow:visible;z-index:2;",
    marks
  });
  page.appendChild(svg);
  return svg;
}
const dotOpts = (c) => ({x: d => d[0], y: d => d[1], symbol: "diamond2", r: 2.4, fill: c, stroke: c, strokeWidth: 0.4});

// ---------------- PANEL 1 : Energy ----------------
const P1 = {xDom: [-0.138, 8.262], xRng: [175, 1393], yDom: [831.6, 852.92], yRng: [373, 50]};
{
  const xs = d3.scaleLinear(P1.xDom, P1.xRng), ys = d3.scaleLinear(P1.yDom, P1.yRng);
  const A = energyAnno;
  const svg = makePlot(P1, [
    Plot.ruleY(energyLevels, {x1: P1.xDom[0], x2: A.lineEnd, stroke: GREY, strokeWidth: 1.6}),
    ...axes(P1, xs, ys, energyTicks, {dx: -7, dy: 6, fs: 13.5}),
    Plot.dot(energyPts, dotOpts(BLUE)),
    Plot.dot([A.ellipse], {x: d => d[0], y: d => d[1], symbol: ellipse(58, 52), fill: "none", stroke: "#222", strokeWidth: 1, strokeDasharray: "6,4"}),
    Plot.text([outlierNote], {x: A.noteAt[0], y: A.noteAt[1], text: d => d, fontSize: 14, fill: NOTE, fontFamily: FONT}),
    ...arrow(xs, ys, A.blackTail, A.blackTip, {stroke: "#111", width: 1, head: 10}),
    ...arrow(xs, ys, A.redTail, A.redTip, {stroke: ARROWRED, width: 6, head: 22}),
    ...arrow(xs, ys, [A.arrowX, A.arrowTop], [A.arrowX, energyLevels[0]], {stroke: NAVY, width: 5, head: 19}),
    ...arrow(xs, ys, [A.arrowX, A.arrowBottom], [A.arrowX, energyLevels[1]], {stroke: NAVY, width: 5, head: 19}),
    Plot.text(energyNote, {x: A.arrowX, y: (d, i) => A.noteY[i], text: d => d, fontSize: 31, fill: DARKRED, fontFamily: FONT})
  ]);
  stretch(svg, TICK, 1.65);
  stretch(svg, NOTE, 1.59);
}

// ---------------- PANEL 2 : Vector sums ----------------
const P2 = {xDom: [0, 8.283], xRng: [173, 1398], yDom: [0.985, 1.01], yRng: [777, 452]};
{
  const xs = d3.scaleLinear(P2.xDom, P2.xRng), ys = d3.scaleLinear(P2.yDom, P2.yRng);
  const A = vsAnno;
  const svg = makePlot(P2, [
    Plot.ruleY(vsLevels, {x1: P2.xDom[0], x2: A.lineEnd, stroke: GREY, strokeWidth: 1.6}),
    ...axes(P2, xs, ys, vsTicks, {dx: -12, dy: 8, fs: 13.5}),
    Plot.dot(vsBlue, dotOpts(BLUE)),
    Plot.dot(vsGreen, dotOpts(GREEN)),
    Plot.dot(vsRed, dotOpts(RED)),
    Plot.dot([A.ellipseL], {x: d => d[0], y: d => d[1], symbol: ellipse(68, 47), fill: "none", stroke: "#222", strokeWidth: 1, strokeDasharray: "7,3,2,3"}),
    Plot.dot([A.ellipseR], {x: d => d[0], y: d => d[1], symbol: ellipse(45, 42), fill: "none", stroke: "#222", strokeWidth: 1, strokeDasharray: "7,3,2,3", clip: true}),
    Plot.text([outlierNote], {x: A.noteAt[0], y: A.noteAt[1], text: d => d, fontSize: 16.5, fill: NOTE, fontFamily: FONT}),
    ...arrow(xs, ys, A.blackTailL, A.blackTipL, {stroke: "#111", width: 1, head: 11}),
    ...arrow(xs, ys, A.blackTailR, A.blackTipR, {stroke: "#111", width: 1, head: 11}),
    ...arrow(xs, ys, A.redTail, A.redTip, {stroke: ARROWRED, width: 6, head: 22}),
    ...arrow(xs, ys, [A.arrowX, A.arrowTop], [A.arrowX, vsLevels[0]], {stroke: NAVY, width: 5, head: 19}),
    ...arrow(xs, ys, [A.arrowX, A.arrowBottom], [A.arrowX, vsLevels[1]], {stroke: NAVY, width: 5, head: 19}),
    Plot.text(vsNote, {x: A.arrowX, y: (d, i) => A.noteY[i], text: d => d, fontSize: 31, fill: DARKRED, fontFamily: FONT})
  ]);
  stretch(svg, TICK, 1.9);
  stretch(svg, NOTE, 1.67);
}

// ---------------- PANEL 3 : Bunch charge ----------------
const P3 = {xDom: [-0.007, 8.274], xRng: [175, 1394], yDom: [2.411, 2.887], yRng: [1177, 857]};
{
  const xs = d3.scaleLinear(P3.xDom, P3.xRng), ys = d3.scaleLinear(P3.yDom, P3.yRng);
  const A = bunchAnno;
  const svg = makePlot(P3, [
    Plot.ruleY(bunchLevels, {x1: P3.xDom[0], x2: A.lineEnd, stroke: GREY, strokeWidth: 1.6}),
    ...axes(P3, xs, ys, bunchTicks, {dx: -15, dy: 5, fs: 13}),
    Plot.ruleY(bunchTicks, {x1: xs.invert(xs(P3.xDom[1]) - 6), x2: P3.xDom[1], stroke: AXIS, strokeWidth: 1}),
    Plot.ruleX(timeTicks, {y1: P3.yDom[1], y2: ys.invert(ys(P3.yDom[1]) + 6), stroke: AXIS, strokeWidth: 1}),
    Plot.dot(bunchPts, dotOpts(BLUE)),
    ...arrow(xs, ys, A.redTail, A.redTip, {stroke: ARROWRED, width: 6, head: 22}),
    ...arrow(xs, ys, [A.arrowX, A.arrowTop], [A.arrowX, bunchLevels[0]], {stroke: NAVY, width: 5, head: 19}),
    ...arrow(xs, ys, [A.arrowX, A.arrowBottom], [A.arrowX, bunchLevels[1]], {stroke: NAVY, width: 5, head: 19}),
    Plot.text(bunchNote, {x: A.arrowX, y: (d, i) => A.noteY[i], text: d => d, fontSize: 31, fill: DARKRED, fontFamily: FONT})
  ]);
  stretch(svg, TICK, 2.3);
}

// ---------------- HTML decorations & labels ----------------
function el(html) { const t = document.createElement("template"); t.innerHTML = html.trim(); const n = t.content.firstChild; page.appendChild(n); return n; }
// slide dots
for (let x = 183; x < W + 6; x += 43.2) el(`<div class="ddot" style="left:${x}px;top:22px"></div>`);
[12, 62, 1411, 1460, 1510, 1560].forEach(x => el(`<div class="ddot" style="left:${x}px;top:1163px"></div>`));
// logo and title remnants (cut by the slide edge, as in the reference)
el(`<div style="position:absolute;left:22px;top:-63px;font:italic bold 110px 'Liberation Sans',Arial,sans-serif;color:#1f2d6e;line-height:1;z-index:1">ilc</div>`);
el(`<div style="position:absolute;left:645px;top:-31px;font-size:53px;color:#2b3a8c;line-height:1;white-space:nowrap;z-index:1">(~2.7mA, 800 bunches)</div>`);
el(`<div style="position:absolute;left:1435px;top:1215px;font-size:50px;color:#000;line-height:1;white-space:nowrap;z-index:1">C. G</div>`);
// frames
el(`<div class="frame" style="left:94px;top:46px;width:1301px;height:350px"></div>`);
el(`<div class="frame" style="left:89px;top:445px;width:1311px;height:348px"></div>`);
el(`<div class="frame" style="left:93px;top:856px;width:1303px;height:342px"></div>`);
el(`<div style="position:absolute;left:89px;top:793px;width:1312px;height:6px;background:#fff;z-index:3"></div>`);
// legend remnant (panel 2)
el(`<div style="position:absolute;left:1380px;top:458px;width:18px;height:52px;border-top:1px solid #999;border-bottom:1px solid #999;z-index:4;font-size:14px;line-height:17px;text-align:right;color:#222"><span style="color:#aaa">›</span>4<br><span style="color:#aaa">›</span>2<br><span style="color:#aaa">›</span>1</div>`);
// title boxes
el(`<div class="tbox" style="left:192px;top:6px;width:288px;height:66px"><span>Energy Server</span></div>`);
el(`<div class="tbox" style="left:195px;top:429px;width:404px;height:65px"><span>Vector Sums (Norm.)</span></div>`);
el(`<div class="tbox" style="left:195px;top:832px;width:277px;height:66px"><span>Bunch Charge</span></div>`);
// axis labels
el(`<div class="vlab" style="left:63px;top:194px">Energy (MeV)</div>`);
el(`<div class="vlab" style="left:108px;top:213px;font-size:12px;color:#444">MeV</div>`);
el(`<div class="vlab" style="left:27px;top:621px">Normalized</div>`);
el(`<div class="vlab" style="left:62px;top:619px">Vector Sum</div>`);
el(`<div class="vlab" style="left:50px;top:1014px;font-size:30px">Bunch Charge (nC)</div>`);
el(`<div class="time" style="right:170px;top:416px">Time (hrs)</div>`);
el(`<div class="time" style="right:170px;top:813px">Time (hrs)</div>`);
el(`<div class="time" style="right:165px;top:1213px">Time (hrs)</div>`);
</script>
</body></html>
